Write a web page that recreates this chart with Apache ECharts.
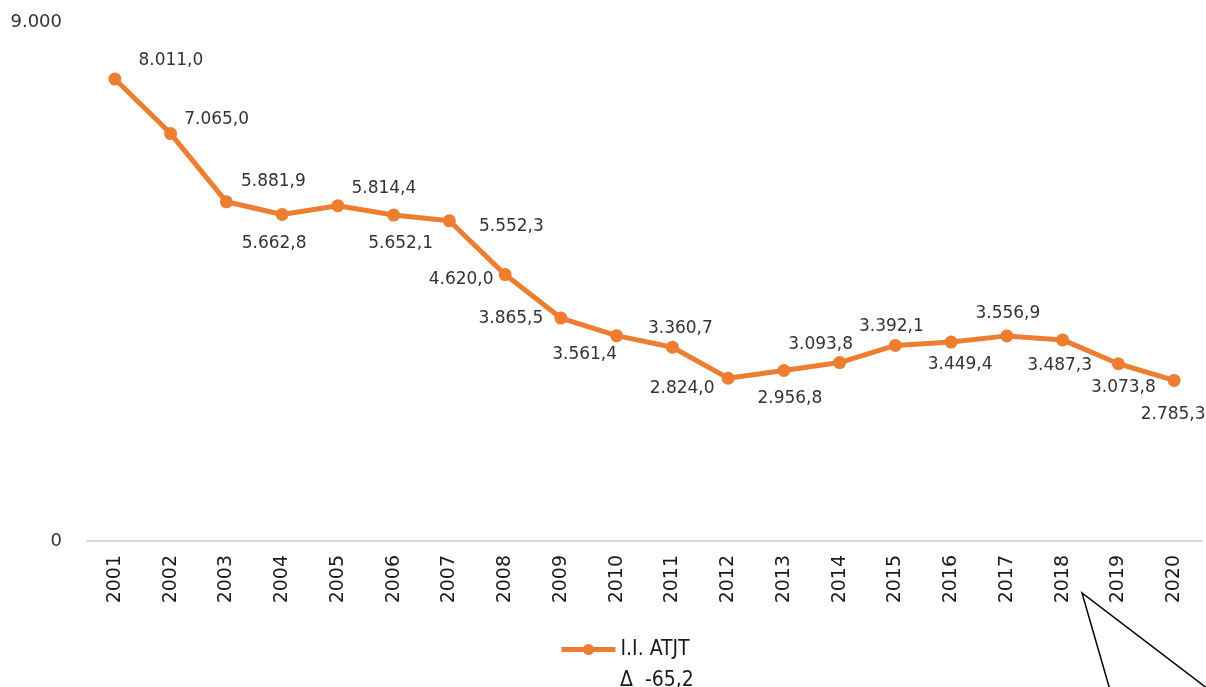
<!DOCTYPE html>
<html>
<head>
<meta charset="utf-8">
<script src="https://cdn.jsdelivr.net/npm/echarts@6/dist/echarts.min.js"></script>
<style>
  html, body { margin: 0; padding: 0; background: #fff; }
  #chart { width: 1206px; height: 687px; }
</style>
</head>
<body>
<div id="chart"></div>
<script>
// data
const years = ['2001', '2002', '2003', '2004', '2005', '2006', '2007', '2008', '2009', '2010',
  '2011', '2012', '2013', '2014', '2015', '2016', '2017', '2018', '2019', '2020']
const values = [8011.0, 7065.0, 5881.9, 5662.8, 5814.4, 5652.1, 5552.3, 4620.0, 3865.5, 3561.4,
  3360.7, 2824.0, 2956.8, 3093.8, 3392.1, 3449.4, 3556.9, 3487.3, 3073.8, 2785.3]
const seriesName = 'I.I. ATJT'
const deltaText = 'Δ  -65,2'
const yTicks = [0, 9000]

// label placement next to each point (px offset from the marker centre)
const labelOffsets = [[56, -18], [46, -14], [47, -20], [-8, 29], [46, -17], [7, 29], [62, 6], [-44, 5],
  [-50, 0], [-32, 19], [8, -19], [-46, 10], [6, 28], [-19, -18], [-4, -19], [9, 22], [1, -22],
  [-3, 26], [5, 24], [-1, 34]]

const orange = '#ED7D31'

// 1234.5 -> "1.234,5"
function fmt(v, dec) {
  const parts = v.toFixed(dec).split('.')
  const intPart = parts[0].replace(/\B(?=(\d{3})+(?!\d))/g, '.')
  return parts.length > 1 ? intPart + ',' + parts[1] : intPart
}

const chart = echarts.init(document.getElementById('chart'))

const option = {
  animation: false,
  grid: { left: 87, right: 4, top: 22, bottom: 146 },
  xAxis: {
    type: 'category',
    data: years,
    boundaryGap: true,
    axisLine: { lineStyle: { color: '#D9D9D9', width: 2 } },
    axisTick: { show: false },
    axisLabel: {
      rotate: 90,
      margin: 14,
      fontFamily: 'DejaVu Sans',
      fontSize: 19,
      color: '#1a1a1a'
    }
  },
  yAxis: {
    type: 'value',
    min: yTicks[0],
    max: yTicks[1],
    interval: yTicks[1] - yTicks[0],
    axisLine: { show: false },
    axisTick: { show: false },
    splitLine: { show: false },
    axisLabel: {
      margin: 25,
      fontFamily: 'DejaVu Sans',
      fontSize: 18,
      color: '#333',
      formatter: v => fmt(v, 0)
    }
  },
  legend: {
    left: 554,
    top: 634,
    itemWidth: 54,
    itemHeight: 14,
    itemGap: 8,
    lineStyle: { width: 5 },
    textStyle: {
      fontFamily: 'DejaVu Sans Condensed',
      fontSize: 21,
      color: '#1a1a1a'
    },
    data: [seriesName]
  },
  series: [
    {
      name: seriesName,
      type: 'line',
      symbol: 'circle',
      symbolSize: 13,
      itemStyle: { color: orange },
      lineStyle: { color: orange, width: 5 },
      label: {
        show: true,
        position: 'inside',
        align: 'center',
        verticalAlign: 'middle',
        fontFamily: 'DejaVu Sans',
        fontSize: 17,
        color: '#333',
        formatter: p => fmt(p.value, 1)
      },
      data: values.map((v, i) => ({
        value: v,
        label: { offset: labelOffsets[i] }
      }))
    }
  ],
  graphic: [
    {
      type: 'text',
      left: 620,
      top: 670,
      style: {
        text: deltaText,
        fontFamily: 'DejaVu Sans Condensed',
        fontSize: 21,
        fill: '#1a1a1a'
      }
    },
    {
      // callout pointer
      type: 'polyline',
      shape: { points: [[1110, 690], [1082, 593], [1212, 692]] },
      style: { stroke: '#000', lineWidth: 1.5, fill: null }
    }
  ]
}

chart.setOption(option)

window.addEventListener('resize', () => {
  chart.resize()
})
</script>
</body>
</html>
